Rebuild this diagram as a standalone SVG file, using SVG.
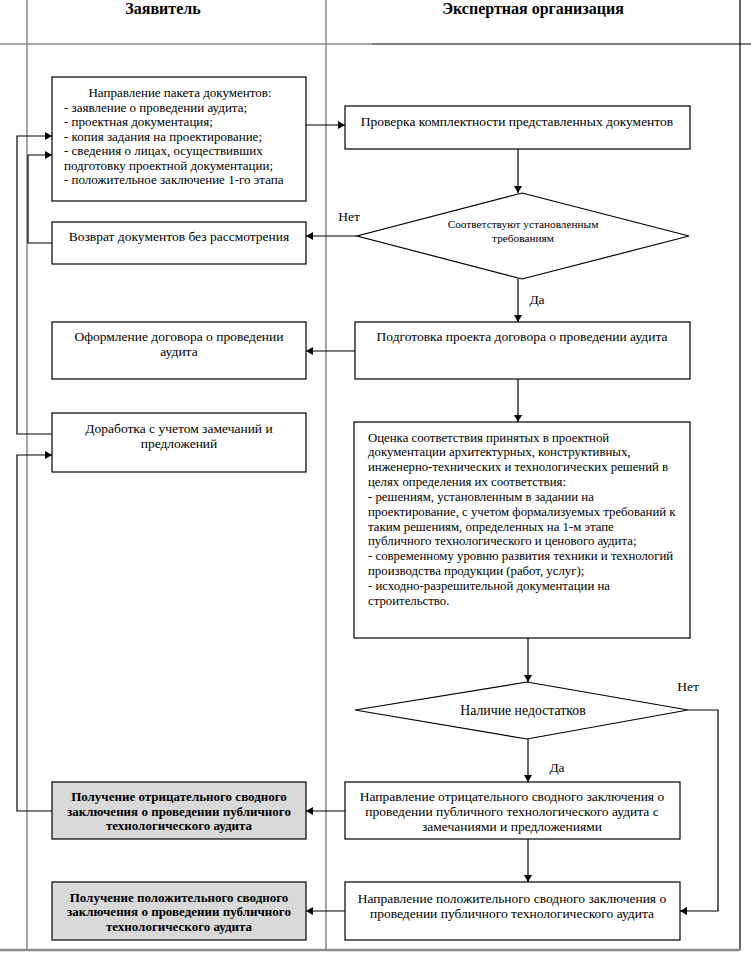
<svg xmlns="http://www.w3.org/2000/svg" width="751" height="953" viewBox="0 0 751 953" font-family="'Liberation Serif', 'Times New Roman', serif">
<defs>
<marker id="ah" markerWidth="8" markerHeight="8" refX="7" refY="4" orient="auto" markerUnits="userSpaceOnUse">
<path d="M0,0 L7,4 L0,8 Z" fill="#000"/>
</marker>
<style>
.box{fill:#fff;stroke:#000;stroke-width:1.2}
.gbox{fill:#d9d9d9;stroke:#000;stroke-width:1.2}
.grid{stroke:#8a8a8a;stroke-width:1.5;fill:none}
.gridk{stroke:#000;stroke-width:1.2;fill:none}
.c{fill:none;stroke:#000;stroke-width:1.2}
.ca{fill:none;stroke:#000;stroke-width:1.2;marker-end:url(#ah)}
text{font-family:"Liberation Serif","Times New Roman",serif;font-size:13.5px;fill:#000}
.m{text-anchor:middle}
.b{font-weight:bold;font-size:13px}
.h{font-weight:bold;font-size:16px;text-anchor:middle}
.s{font-size:11.3px;text-anchor:middle}
.t1{font-size:13px}
.t2{font-size:12.8px}
</style>
</defs>
<g id="table">
<line class="grid" x1="27" y1="0" x2="27" y2="950"/>
<line class="grid" x1="326" y1="0" x2="326" y2="950"/>
<line class="gridk" x1="740" y1="0" x2="740" y2="950"/>
<line class="grid" x1="0" y1="44" x2="372" y2="44"/>
<line class="gridk" x1="372" y1="44" x2="751" y2="44"/>
<line class="grid" x1="0" y1="950" x2="740" y2="950" style="stroke-width:2.5"/>
<text class="h" x="163" y="14">Заявитель</text>
<text class="h" x="533" y="14">Экспертная организация</text>
</g>
<g id="connectors">
<path class="ca" d="M306,125 H345"/>
<path class="ca" d="M518,149 V193"/>
<path class="ca" d="M357,236 H306"/>
<path class="ca" d="M518,279 V322"/>
<path class="ca" d="M355,351 H306"/>
<path class="ca" d="M518,379 V422"/>
<path class="ca" d="M528,638 V682"/>
<path class="ca" d="M528,739 V782"/>
<path class="ca" d="M688,710 H718 V911 H680"/>
<path class="ca" d="M345,811 H306"/>
<path class="ca" d="M528,839 V882"/>
<path class="ca" d="M345,911 H306"/>
<path class="ca" d="M52,243 H28 V155 H52"/>
<path class="ca" d="M52,434 H17 V136 H52"/>
<path class="ca" d="M52,811 H17 V455 H52"/>
<text x="349" y="221" class="m">Нет</text>
<text x="537" y="304" class="m">Да</text>
<text x="688" y="691" class="m">Нет</text>
<text x="557" y="772" class="m">Да</text>
</g>
<g id="n1" class="t1">
<rect class="box" x="52" y="77" width="254" height="124"/>
<text x="180" y="96.5" class="m t1">Направление пакета документов:</text>
<text x="64" y="111.5" class="t1">- заявление о проведении аудита;</text>
<text x="64" y="126" class="t1">- проектная документация;</text>
<text x="64" y="140.5" class="t1">- копия задания на проектирование;</text>
<text x="64" y="155" class="t1">- сведения о лицах, осуществивших</text>
<text x="64" y="170" class="t1">подготовку проектной документации;</text>
<text x="64" y="184" class="t1">- положительное заключение 1-го этапа</text>
</g>
<g id="n2">
<rect class="box" x="345" y="106" width="345" height="43"/>
<text x="517" y="126" class="m">Проверка комплектности представленных документов</text>
</g>
<g id="n3">
<path class="box" d="M522,193 L689,236 L522,279 L357,236 Z"/>
<text x="523" y="228" class="s">Соответствуют установленным</text>
<text x="523" y="242" class="s">требованиям</text>
</g>
<g id="n4">
<rect class="box" x="52" y="222" width="254" height="42"/>
<text x="179" y="240.5" class="m">Возврат документов без рассмотрения</text>
</g>
<g id="n5">
<rect class="box" x="52" y="322" width="254" height="57"/>
<text x="179" y="340.5" class="m">Оформление договора о проведении</text>
<text x="179" y="355.5" class="m">аудита</text>
</g>
<g id="n6">
<rect class="box" x="355" y="322" width="335" height="57"/>
<text x="522" y="340.5" class="m">Подготовка проекта договора о проведении аудита</text>
</g>
<g id="n7">
<rect class="box" x="52" y="413" width="254" height="59"/>
<text x="179" y="432.5" class="m">Доработка с учетом замечаний и</text>
<text x="179" y="447.5" class="m">предложений</text>
</g>
<g id="n8">
<rect class="box" x="354" y="422" width="336" height="216"/>
<text x="368" y="441.5" class="t2">Оценка соответствия принятых в проектной</text>
<text x="368" y="456.4" class="t2">документации архитектурных, конструктивных,</text>
<text x="368" y="471.2" class="t2">инженерно-технических и технологических решений в</text>
<text x="368" y="486" class="t2">целях определения их соответствия:</text>
<text x="368" y="500.9" class="t2">- решениям, установленным в задании на</text>
<text x="368" y="515.8" class="t2">проектирование, с учетом формализуемых требований к</text>
<text x="368" y="530.6" class="t2">таким решениям, определенных на 1-м этапе</text>
<text x="368" y="545.4" class="t2">публичного технологического и ценового аудита;</text>
<text x="368" y="560.3" class="t2">- современному уровню развития техники и технологий</text>
<text x="368" y="575.2" class="t2">производства продукции (работ, услуг);</text>
<text x="368" y="590" class="t2">- исходно-разрешительной документации на</text>
<text x="368" y="604.8" class="t2">строительство.</text>
</g>
<g id="n9">
<path class="box" d="M527,682 L688,710 L527,739 L355,710 Z"/>
<text x="523" y="714.5" class="m" style="font-size:13.8px">Наличие недостатков</text>
</g>
<g id="n10">
<rect class="box" x="345" y="782" width="335" height="57"/>
<text x="512" y="800.5" class="m">Направление отрицательного сводного заключения о</text>
<text x="512" y="815.5" class="m">проведении публичного технологического аудита с</text>
<text x="512" y="830.5" class="m">замечаниями и предложениями</text>
</g>
<g id="n11">
<rect class="gbox" x="52" y="782" width="254" height="57"/>
<text x="179" y="801" class="m b">Получение отрицательного сводного</text>
<text x="179" y="815.5" class="m b">заключения о проведении публичного</text>
<text x="179" y="830" class="m b">технологического аудита</text>
</g>
<g id="n12">
<rect class="box" x="345" y="882" width="335" height="58"/>
<text x="512" y="902.5" class="m">Направление положительного сводного заключения о</text>
<text x="512" y="917.5" class="m">проведении публичного технологического аудита</text>
</g>
<g id="n13">
<rect class="gbox" x="52" y="882" width="254" height="58"/>
<text x="179" y="901.5" class="m b">Получение положительного сводного</text>
<text x="179" y="916" class="m b">заключения о проведении публичного</text>
<text x="179" y="930.5" class="m b">технологического аудита</text>
</g>
</svg>
